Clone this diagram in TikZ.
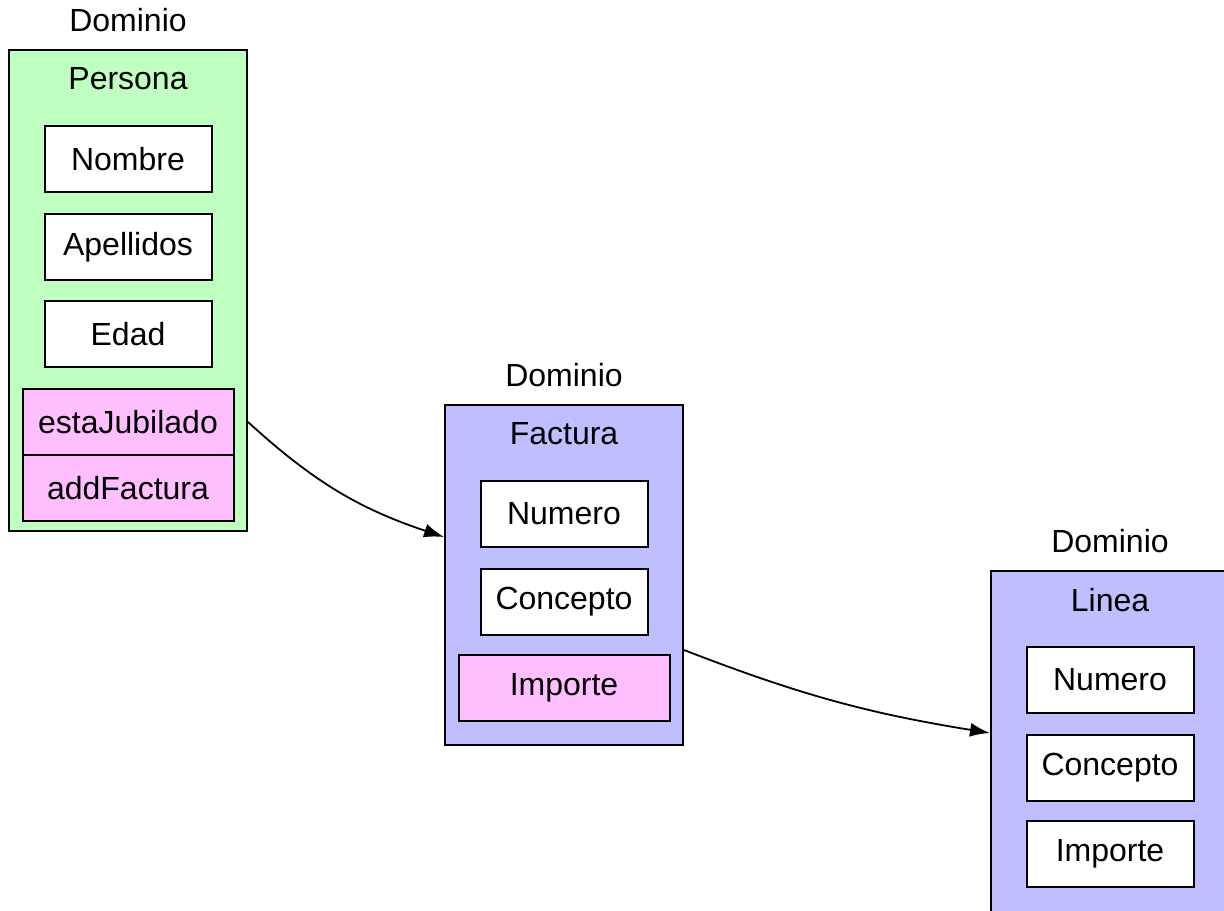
\documentclass[tikz,border=0pt]{standalone}
\usepackage{fontspec}
\setmainfont{Liberation Sans}
\usepackage{tikz}
\usetikzlibrary{positioning}
\usetikzlibrary{arrows.meta}
\definecolor{verde}{RGB}{191,255,191}
\definecolor{azul}{RGB}{191,191,255}
\definecolor{rosa}{RGB}{255,191,255}
\tikzstyle{clase}=[rectangle,draw,line width=1pt,minimum width=119pt]
\tikzstyle{titulo}=[inner sep=0pt]
\tikzstyle{campo}=[rectangle,draw,line width=1pt,fill=white,minimum width=83.5pt,minimum height=33pt,inner sep=0pt]
\tikzstyle{metodo}=[campo,fill=rosa,minimum width=105.5pt]

\begin{document}
\begin{tikzpicture}
	[x=0.5pt,y=-0.5pt,font=\fontsize{16}{19}\selectfont]
	\tikzstyle{flecha}=[-{Latex[length=10pt,width=7pt]},line width=0.9pt];
	\useasboundingbox (0,0) rectangle (1224,910);
	
	% Persona
	\node (persona) [clase,fill=verde,minimum height=240.5pt] at (128,290.5) {};
	\node (dom1) [titulo,above=8.5pt of persona] {Dominio};
	\node (tpersona) [titulo,below=9pt of persona.north] {Persona};
	\node (nombre) [campo,below=38pt of persona.north] {Nombre};
	\node (apellidos) [campo,below=10pt of nombre] {Apellidos};
	\node (edad) [campo,below=9.5pt of apellidos] {Edad};
	\node (esta) [metodo,below=10pt of edad] {estaJubilado};
	\node (addf) [metodo,below=-1pt of esta] {addFactura};
	
	% Factura
	\node (factura) [clase,fill=azul,minimum height=170pt] at (564,575) {};
	\node (dom2) [titulo,above=8.5pt of factura] {Dominio};
	\node (tfactura) [titulo,below=9pt of factura.north] {Factura};
	\node (fnumero) [campo,below=38pt of factura.north] {Numero};
	\node (fconcepto) [campo,below=10pt of fnumero] {Concepto};
	\node (fimporte) [metodo,below=9pt of fconcepto] {Importe};
	
	% Linea (runs off the bottom)
	\node (linea) [clase,fill=azul,minimum height=174pt] at (1110,745) {};
	\node (dom3) [titulo,above=8.5pt of linea] {Dominio};
	\node (tlinea) [titulo,below=9pt of linea.north] {Linea};
	\node (lnumero) [campo,below=38pt of linea.north] {Numero};
	\node (lconcepto) [campo,below=10pt of lnumero] {Concepto};
	\node (limporte) [campo,below=9pt of lconcepto] {Importe};
	
	\path[flecha]
		(persona.east |- esta) edge[bend right=12] ([yshift=19pt]factura.west)
		([yshift=-37.5pt]factura.east) edge[bend right=6] ([yshift=6pt]linea.west);
\end{tikzpicture}
\end{document}
